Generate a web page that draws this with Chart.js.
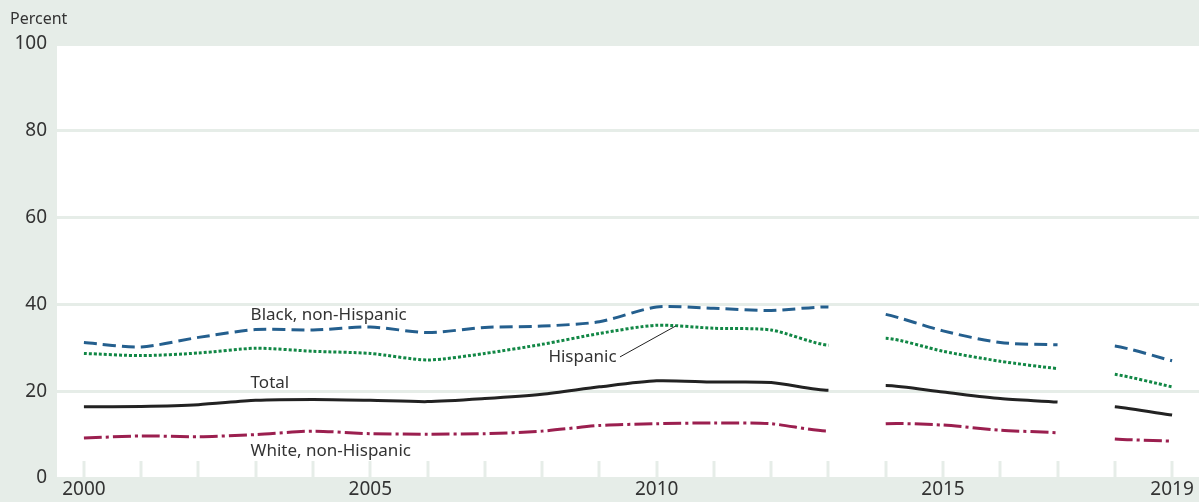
<!DOCTYPE html>
<html lang="en">
<head>
    <meta charset="UTF-8">
    <title>Percent by race and Hispanic origin, 2000-2019</title>
    <script src="https://cdn.jsdelivr.net/npm/chart.js@4.4.1/dist/chart.umd.min.js"></script>
    <style>
        html, body {
            margin: 0;
            padding: 0;
            background: #e6ede8;
            overflow: hidden;
        }
        canvas {
            display: block;
        }
    </style>
</head>
<body>
    <canvas id="chart" width="1199" height="502"></canvas>

    <script>
        const years = [2000, 2001, 2002, 2003, 2004, 2005, 2006, 2007, 2008, 2009,
                       2010, 2011, 2012, 2013, 2014, 2015, 2016, 2017, 2018, 2019];
        const blackNonHispanic = [31.2, 30.2, 32.4, 34.2, 34.1, 34.8, 33.5, 34.7, 35.0, 36.0,
                                  39.4, 39.1, 38.6, 39.4, 37.7, 33.9, 31.2, 30.7, 30.4, 27.0];
        const hispanic = [28.7, 28.2, 28.8, 29.9, 29.2, 28.7, 27.2, 28.7, 30.8, 33.3,
                          35.2, 34.5, 34.1, 30.6, 32.2, 29.2, 26.9, 25.2, 23.9, 21.0];
        const total = [16.4, 16.5, 16.9, 17.9, 18.1, 17.9, 17.6, 18.3, 19.3, 21.0,
                       22.4, 22.1, 22.0, 20.2, 21.3, 19.8, 18.3, 17.5, 16.4, 14.5];
        const whiteNonHispanic = [9.2, 9.7, 9.5, 10.0, 10.8, 10.2, 10.1, 10.2, 10.8, 12.1,
                                  12.5, 12.7, 12.5, 10.8, 12.5, 12.2, 11.0, 10.4, 9.0, 8.5];
        const breakAfter = [2013, 2017];   // series are not joined across these years
        const xTickYears = [2000, 2005, 2010, 2015, 2019];
        const yTicks = [0, 20, 40, 60, 80, 100];

        const BG = '#e6ede8';
        const TEXT = '#333333';
        const FONT = '"Noto Sans", sans-serif';

        function toPoints(values) {
            return years.map((yr, i) => ({ x: yr, y: values[i] }));
        }

        function makeSeries(label, values, color, dash) {
            return {
                label: label,
                data: toPoints(values),
                borderColor: color,
                borderWidth: 3,
                borderDash: dash,
                pointRadius: 0,
                tension: 0.25,
                fill: false,
                segment: {
                    borderColor: ctx => breakAfter.includes(years[ctx.p0DataIndex]) ? 'transparent' : color
                }
            };
        }

        // background, white plot area and short tick marks at each year
        const framePlugin = {
            id: 'frame',
            beforeDraw(chart) {
                const { ctx, chartArea: a, scales } = chart;
                ctx.save();
                ctx.fillStyle = BG;
                ctx.fillRect(0, 0, chart.width, chart.height);
                ctx.fillStyle = '#ffffff';
                ctx.fillRect(a.left, a.top, a.right - a.left, a.bottom - a.top);
                ctx.strokeStyle = BG;
                ctx.lineWidth = 3;
                years.forEach(yr => {
                    const x = Math.round(scales.x.getPixelForValue(yr));
                    ctx.beginPath();
                    ctx.moveTo(x, a.bottom - 17);
                    ctx.lineTo(x, a.bottom);
                    ctx.stroke();
                });
                ctx.restore();
            },
            afterDraw(chart) {
                const { ctx, scales } = chart;
                const px = v => scales.x.getPixelForValue(v);
                const py = v => scales.y.getPixelForValue(v);
                ctx.save();
                ctx.fillStyle = TEXT;
                ctx.textBaseline = 'middle';
                ctx.font = '16px ' + FONT;
                ctx.textAlign = 'left';
                ctx.fillText('Percent', 10, 19);

                ctx.font = '17px ' + FONT;
                ctx.fillText('Black, non-Hispanic', px(2002.91), py(37.6));
                ctx.fillText('Total', px(2002.91), py(21.8));
                ctx.fillText('White, non-Hispanic', px(2002.91), py(6.2));
                ctx.textAlign = 'right';
                ctx.fillText('Hispanic', px(2009.3), py(27.8));

                // leader line for Hispanic
                ctx.strokeStyle = '#222222';
                ctx.lineWidth = 1;
                ctx.beginPath();
                ctx.moveTo(px(2009.36), py(27.9));
                ctx.lineTo(px(2010.33), py(35.0));
                ctx.stroke();
                ctx.restore();
            }
        };

        new Chart(document.getElementById('chart'), {
            type: 'line',
            data: {
                datasets: [
                    makeSeries('Black, non-Hispanic', blackNonHispanic, '#245f8e', [13, 6]),
                    makeSeries('Hispanic', hispanic, '#118745', [3, 2]),
                    makeSeries('Total', total, '#222222', []),
                    makeSeries('White, non-Hispanic', whiteNonHispanic, '#9b1f4f', [18, 4, 3, 4])
                ]
            },
            options: {
                responsive: false,
                animation: false,
                layout: { padding: { top: 44, right: 0, left: 0, bottom: 0 } },
                plugins: {
                    legend: { display: false },
                    tooltip: { enabled: false }
                },
                scales: {
                    x: {
                        type: 'linear',
                        min: 1999.53,
                        max: 2019.47,
                        afterBuildTicks: scale => { scale.ticks = xTickYears.map(v => ({ value: v })); },
                        afterFit: scale => { scale.height = 24; },
                        grid: { display: false, drawTicks: false },
                        border: { display: false },
                        ticks: {
                            color: TEXT,
                            font: { family: FONT, size: 19 },
                            padding: 0,
                            maxRotation: 0,
                            autoSkip: false,
                            callback: v => String(v)
                        }
                    },
                    y: {
                        min: 0,
                        max: 100,
                        afterBuildTicks: scale => { scale.ticks = yTicks.map(v => ({ value: v })); },
                        afterFit: scale => { scale.width = 57; },
                        grid: {
                            color: BG,
                            lineWidth: 3,
                            drawTicks: false
                        },
                        border: { display: false },
                        ticks: {
                            color: TEXT,
                            font: { family: FONT, size: 19 },
                            padding: 10
                        }
                    }
                }
            },
            plugins: [framePlugin]
        });
    </script>
</body>
</html>
